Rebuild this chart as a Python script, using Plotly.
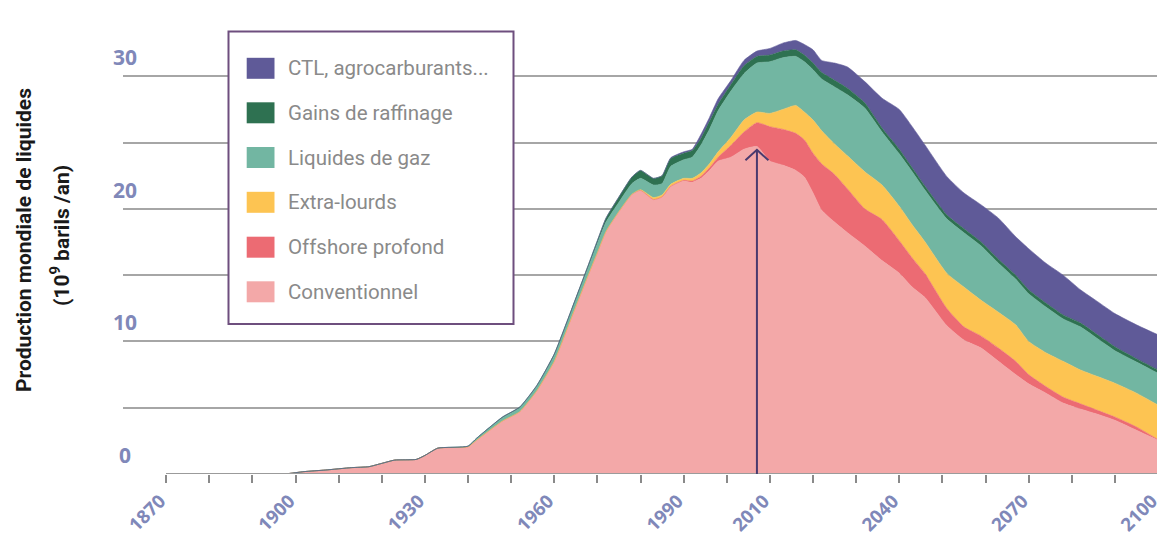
import plotly.graph_objects as go

# ---------------- data (10^9 barils / an) ----------------
years = [1870, 1895, 1898, 1902, 1907, 1913, 1917, 1920, 1923, 1928, 1930, 1933,
         1940, 1942, 1948, 1952, 1956, 1960, 1964, 1968, 1970, 1972, 1975, 1978,
         1980, 1983, 1985, 1987, 1990, 1992, 1994, 1996, 1998, 2001, 2004, 2007,
         2010, 2013, 2016, 2018, 2020, 2022, 2025, 2028, 2032, 2036, 2040, 2043,
         2046, 2051, 2055, 2059, 2063, 2067, 2070, 2074, 2078, 2082, 2086, 2090,
         2095, 2100]

conventionnel = [0, 0, 0.02, 0.18, 0.30, 0.48, 0.55, 0.80, 1.05, 1.10, 1.40, 1.95,
                 2.05, 2.55, 4.0, 4.7, 6.3, 8.5, 11.8, 15.1, 16.7, 18.3, 19.8, 21.1,
                 21.4, 20.7, 20.9, 21.7, 22.1, 22.0, 22.3, 22.9, 23.6, 23.9, 24.5, 24.7,
                 23.6, 23.3, 22.9, 22.4, 21.2, 19.9, 19.0, 18.2, 17.2, 16.1, 15.15, 14.1,
                 13.3, 11.2, 10.1, 9.5, 8.5, 7.5, 6.8, 6.1, 5.35, 4.9, 4.5, 4.05,
                 3.3, 2.55]

offshore_profond = [0, 0, 0, 0, 0, 0, 0, 0, 0, 0, 0, 0,
                    0, 0, 0, 0, 0, 0, 0, 0, 0, 0, 0, 0,
                    0, 0, 0, 0, 0.05, 0.10, 0.15, 0.20, 0.30, 0.90, 1.30, 1.80,
                    2.60, 2.70, 2.80, 2.80, 3.00, 3.50, 3.60, 3.30, 2.80, 3.10, 2.45, 2.20,
                    1.80, 1.30, 1.00, 0.90, 1.00, 1.00, 0.70, 0.50, 0.45, 0.40, 0.30, 0.25,
                    0.25, 0.05]

extra_lourds = [0, 0, 0, 0, 0, 0, 0, 0, 0, 0, 0, 0,
                0, 0, 0, 0, 0, 0, 0, 0, 0, 0, 0, 0,
                0.05, 0.15, 0.15, 0.15, 0.15, 0.20, 0.25, 0.30, 0.40, 0.60, 0.90, 0.80,
                1.00, 1.50, 2.10, 2.10, 2.50, 2.50, 2.30, 2.50, 2.80, 2.60, 2.60, 2.50,
                2.40, 2.65, 3.00, 2.70, 2.70, 2.75, 2.50, 2.55, 2.70, 2.55, 2.55, 2.55,
                2.55, 2.60]

liquides_de_gaz = [0, 0, 0, 0, 0, 0, 0, 0, 0, 0, 0, 0,
                   0.05, 0.15, 0.25, 0.30, 0.35, 0.45, 0.50, 0.60, 0.70, 0.70, 0.70, 0.80,
                   0.85, 0.95, 0.85, 1.35, 1.40, 1.60, 2.10, 2.60, 3.10, 3.50, 3.50, 3.70,
                   3.90, 3.90, 3.70, 3.80, 3.80, 3.90, 4.30, 4.60, 4.80, 4.00, 3.95, 4.00,
                   3.90, 4.10, 4.10, 4.10, 3.70, 3.45, 3.60, 3.45, 3.20, 3.25, 2.85, 2.45,
                   2.35, 2.40]

gains_de_raffinage = [0, 0, 0, 0, 0, 0, 0, 0, 0, 0, 0, 0,
                      0, 0, 0.05, 0.05, 0.05, 0.10, 0.10, 0.15, 0.20, 0.30, 0.40, 0.50,
                      0.60, 0.50, 0.60, 0.60, 0.50, 0.50, 0.50, 0.60, 0.50, 0.50, 0.60, 0.50,
                      0.50, 0.50, 0.50, 0.50, 0.50, 0.50, 0.50, 0.50, 0.40, 0.30, 0.35, 0.30,
                      0.30, 0.30, 0.30, 0.30, 0.30, 0.30, 0.30, 0.30, 0.30, 0.30, 0.30, 0.30,
                      0.25, 0.25]

ctl_agrocarburants = [0, 0, 0, 0, 0, 0, 0, 0, 0, 0, 0, 0,
                      0, 0, 0, 0, 0, 0, 0, 0, 0, 0, 0, 0,
                      0, 0, 0, 0.05, 0.10, 0.10, 0.30, 0.30, 0.40, 0.30, 0.40, 0.40,
                      0.50, 0.60, 0.70, 0.80, 1.00, 0.90, 1.30, 1.60, 1.60, 2.25, 3.00, 3.10,
                      3.10, 2.90, 2.70, 2.80, 3.10, 2.90, 3.10, 3.00, 3.00, 2.50, 2.50, 2.50,
                      2.55, 2.65]

# stacking order: bottom -> top
series_names = ["Conventionnel", "Offshore profond", "Extra-lourds",
                "Liquides de gaz", "Gains de raffinage", "CTL, agrocarburants..."]
series_values = [conventionnel, offshore_profond, extra_lourds,
                 liquides_de_gaz, gains_de_raffinage, ctl_agrocarburants]
series_colors = ["#f3a8a8", "#ec6b73", "#fdc452", "#72b6a2", "#2e7151", "#5f5a98"]

x_tick_vals = list(range(1870, 2101, 10))
x_labelled = [1870, 1900, 1930, 1960, 1990, 2010, 2040, 2070, 2100]
y_grid_vals = [0, 5, 10, 15, 20, 25, 30, 35]
y_label_vals = [0, 10, 20, 30]
peak_year = 2007
peak_value = 24.45
y_title_1 = "Production mondiale de liquides"
y_title_2 = "(10<sup>9</sup> barils /an)"

# ---------------- layout geometry ----------------
# page offset of the figure (default body margin of the html page)
OFF = 8
PAGE_W, PAGE_H = 1165, 535
W, H = PAGE_W - OFF, PAGE_H - OFF
# plot area in page pixels: x 123..1158, y 10..474
PL, PR, PT, PB = 123, 1158, 10, 474
ML, MT = PL - OFF, PT - OFF
MR, MB = W - (PR - OFF), H - (PB - OFF)
PW, PH = PR - PL, PB - PT


def px(xp):  # page pixel -> paper x
    return (xp - PL) / PW


def py(yp):  # page pixel -> paper y
    return (PB - yp) / PH


LABEL_BLUE = "#8088b9"
SANS = "Roboto, Open Sans, sans-serif"

fig = go.Figure()
for name, vals, col in zip(series_names, series_values, series_colors):
    fig.add_trace(go.Scatter(
        x=years, y=vals, name=name, stackgroup="one", mode="lines",
        line=dict(width=0.6, color=col, shape="spline", smoothing=0.5),
        fillcolor=col, showlegend=False, hoverinfo="x+y+name"))

shapes = []
# lighter grid segment at the far left
shapes.append(dict(type="rect", xref="x", yref="paper", x0=1860, x1=1870, y0=0, y1=1,
                   fillcolor="rgba(255,255,255,0.45)", line=dict(width=0), layer="between"))
# axis baseline
shapes.append(dict(type="line", xref="x", yref="y", x0=1870, x1=2100, y0=0, y1=0,
                   line=dict(color="#9b9b9b", width=2), layer="above"))
# peak arrow: shaft + open chevron head
shapes.append(dict(type="line", xref="x", yref="y", x0=peak_year, x1=peak_year,
                   y0=0, y1=peak_value, line=dict(color="#4a3a6e", width=2), layer="above"))
shapes.append(dict(type="path", xref="x", yref="y", xsizemode="pixel", ysizemode="pixel",
                   xanchor=peak_year, yanchor=peak_value,
                   path="M-11.5,-10.5 L0,0 L11.5,-10.5",
                   line=dict(color="#4a3a6e", width=2), layer="above"))

annotations = []
for v in y_label_vals:
    annotations.append(dict(x=px(125), xref="paper", y=v, yref="y", text=str(v),
                            showarrow=False, xanchor="center", yanchor="bottom", yshift=3,
                            font=dict(family="Open Sans, sans-serif", size=21,
                                      color=LABEL_BLUE, weight="bold")))

# y-axis title (two lines)
annotations.append(dict(x=px(24), y=py(240), xref="paper", yref="paper", text=y_title_1,
                        textangle=-90, showarrow=False, xanchor="center", yanchor="middle",
                        font=dict(family=SANS, size=21, color="#1a1a1a", weight="bold")))
annotations.append(dict(x=px(60), y=py(236), xref="paper", yref="paper", text=y_title_2,
                        textangle=-90, showarrow=False, xanchor="center", yanchor="middle",
                        font=dict(family=SANS, size=21, color="#1a1a1a", weight="bold")))

# manual legend
shapes.append(dict(type="rect", xref="paper", yref="paper",
                   x0=px(228.5), x1=px(513.5), y0=py(324), y1=py(31.5),
                   line=dict(color="#6e4f7e", width=2), fillcolor="white", layer="above"))
row_y = [68.3, 112.8, 157.5, 202.3, 247.2, 291.8]
legend_order = list(range(len(series_names)))[::-1]
for ry, idx in zip(row_y, legend_order):
    shapes.append(dict(type="rect", xref="paper", yref="paper",
                       x0=px(246.7), x1=px(274.5), y0=py(ry + 10.5), y1=py(ry - 10.5),
                       fillcolor=series_colors[idx], line=dict(width=0), layer="above"))
    annotations.append(dict(x=px(286), y=py(ry), xref="paper", yref="paper",
                            text=series_names[idx], showarrow=False,
                            xanchor="left", yanchor="middle",
                            font=dict(family=SANS, size=20.5, color="#8a8a8a")))

fig.update_layout(
    width=W, height=H,
    margin=dict(l=ML, r=MR, t=MT, b=MB, autoexpand=False),
    paper_bgcolor="white", plot_bgcolor="white",
    shapes=shapes, annotations=annotations, showlegend=False,
    xaxis=dict(range=[1860, 2100], tickvals=x_tick_vals,
               ticktext=[str(v) if v in x_labelled else "" for v in x_tick_vals],
               tickangle=-45, ticks="outside", ticklen=8, tickwidth=1.5,
               tickcolor="#8a8a8a", showgrid=False, zeroline=False, showline=False,
               ticklabeloverflow="allow", ticklabelshift=-6,
               tickfont=dict(family="Open Sans, sans-serif", size=18.5,
                             color=LABEL_BLUE, weight="bold"),
               automargin=False, fixedrange=True),
    yaxis=dict(range=[0, 35], tickvals=y_grid_vals, showticklabels=False,
               showgrid=True, gridcolor="#a6a6a6", gridwidth=1.6, zeroline=False,
               showline=False, ticks="", automargin=False, fixedrange=True),
)

fig.write_html("out.html")
